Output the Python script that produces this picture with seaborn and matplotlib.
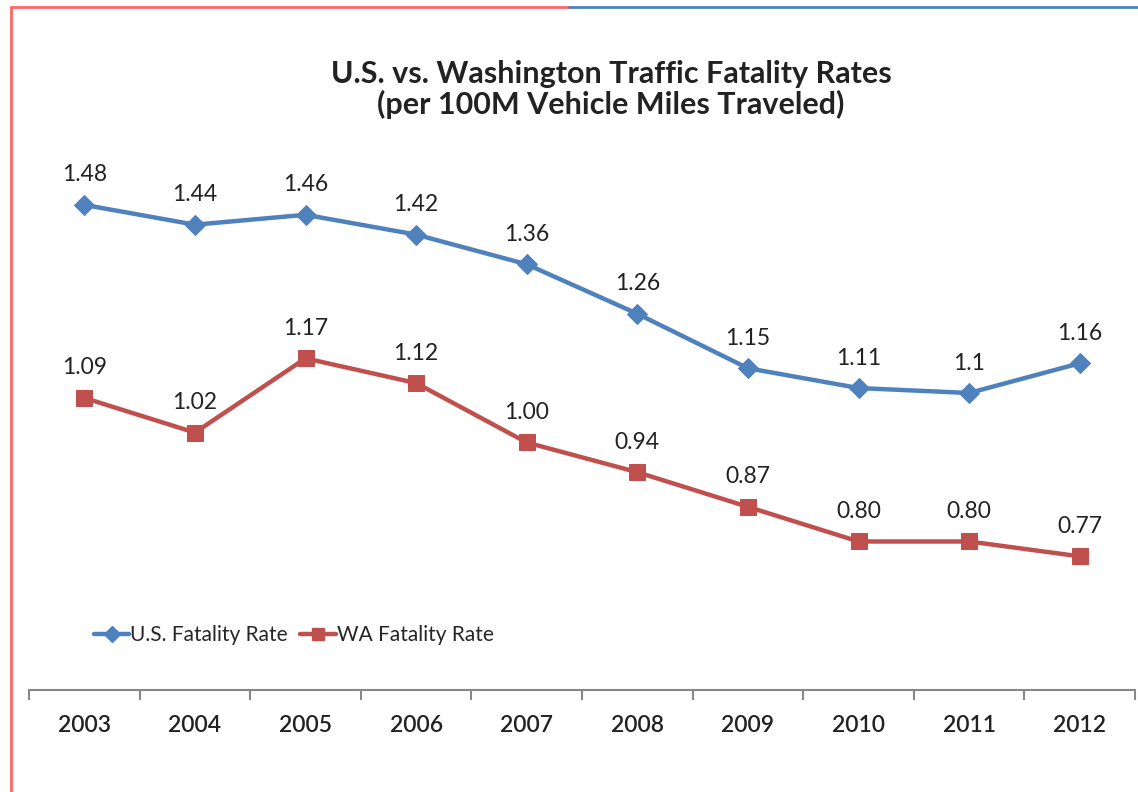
import numpy as np
import pandas as pd
import matplotlib
matplotlib.use("Agg")
import matplotlib.pyplot as plt
import seaborn as sns
from matplotlib.lines import Line2D

years = ["2003", "2004", "2005", "2006", "2007", "2008", "2009", "2010", "2011", "2012"]
us_rate = [1.48, 1.44, 1.46, 1.42, 1.36, 1.26, 1.15, 1.11, 1.10, 1.16]
wa_rate = [1.09, 1.02, 1.17, 1.12, 1.00, 0.94, 0.87, 0.80, 0.80, 0.77]
us_labels = ["1.48", "1.44", "1.46", "1.42", "1.36", "1.26", "1.15", "1.11", "1.1", "1.16"]
wa_labels = ["1.09", "1.02", "1.17", "1.12", "1.00", "0.94", "0.87", "0.80", "0.80", "0.77"]

BLUE = "#4F81BD"
RED = "#C0504D"

sns.set_style("white")
plt.rcParams["font.family"] = ["Lato", "DejaVu Sans"]

pos = np.arange(len(years))
df = pd.DataFrame({"pos": pos, "us": us_rate, "wa": wa_rate})

fig = plt.figure(figsize=(11.38, 7.92), dpi=100)
ax = fig.add_axes([0.0255, 0.1288, 0.9719, 0.6875])

sns.lineplot(data=df, x="pos", y="us", ax=ax, color=BLUE, lw=3.2,
             marker="D", markersize=10, markeredgecolor=BLUE)
sns.lineplot(data=df, x="pos", y="wa", ax=ax, color=RED, lw=3.2,
             marker="s", markersize=11, markeredgecolor=RED)

for x, y, t in zip(pos, us_rate, us_labels):
    ax.annotate(t, (x, y), xytext=(0, 14), textcoords="offset points",
                ha="center", va="bottom", fontsize=16.5, color="#222222")
for x, y, t in zip(pos, wa_rate, wa_labels):
    ax.annotate(t, (x, y), xytext=(0, 14), textcoords="offset points",
                ha="center", va="bottom", fontsize=16.5, color="#222222")

ax.set_xlim(-0.5, len(years) - 0.5)
ax.set_ylim(0.5, 1.6)
ax.set_xticks(pos)
ax.set_xticklabels(years, fontsize=16.5, color="#222222", fontweight="semibold")
ax.set_xticks(np.arange(-0.5, len(years)), minor=True)
ax.tick_params(axis="x", which="major", length=0, pad=18, bottom=False)
ax.tick_params(axis="x", which="minor", length=7, width=1.5, color="#888888",
               direction="out", bottom=True)
ax.set_yticks([])
ax.set_xlabel("")
ax.set_ylabel("")
for s in ["left", "right", "top"]:
    ax.spines[s].set_visible(False)
ax.spines["bottom"].set_color("#888888")
ax.spines["bottom"].set_linewidth(1.5)

fig.text(0.537, 0.887, "U.S. vs. Washington Traffic Fatality Rates\n(per 100M Vehicle Miles Traveled)",
         ha="center", va="center", fontsize=22, fontweight="bold", color="#222222",
         linespacing=1.12)

handles = [
    Line2D([], [], color=BLUE, lw=3.2, marker="D", markersize=8),
    Line2D([], [], color=RED, lw=3.2, marker="s", markersize=9),
]
fig.legend(handles, ["U.S. Fatality Rate", "WA Fatality Rate"], loc="center left",
           bbox_to_anchor=(0.066, 0.198), ncol=2, frameon=False, fontsize=15,
           handlelength=1.7, handletextpad=0.05, columnspacing=0.6)

# frame around the chart area
fig.add_artist(Line2D([0.0095, 0.0095], [0.0, 0.991], color="#FF6666", lw=2))
fig.add_artist(Line2D([0.0095, 0.5], [0.991, 0.991], color="#FF6666", lw=2))
fig.add_artist(Line2D([0.5, 1.0], [0.991, 0.991], color=BLUE, lw=2))

fig.savefig("out.png", dpi=100)
